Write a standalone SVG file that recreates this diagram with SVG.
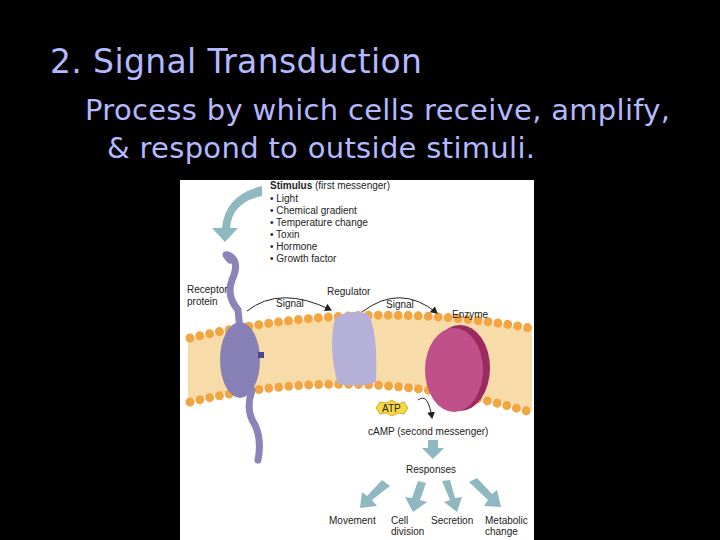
<svg xmlns="http://www.w3.org/2000/svg" width="720" height="540" viewBox="0 0 720 540">
<defs>
<marker id="ah" markerWidth="8" markerHeight="8" refX="6" refY="4" orient="auto"><path d="M0,0 L7,4 L0,8 z" fill="#222"/></marker>
<style>
.t{font-family:"DejaVu Sans",sans-serif;fill:#b4b8ff}
.s{font-family:"Liberation Sans",Arial,sans-serif;font-size:10px;fill:#222}
.b{fill:#8fb8c0}
.heads{fill:none;stroke:#f2a540;stroke-width:9;stroke-linecap:round;stroke-dasharray:0 10}
.sig{fill:none;stroke:#222;stroke-width:1}
</style>
</defs>
<rect width="720" height="540" fill="#000"/>
<text class="t" x="50" y="73" font-size="33" textLength="372">2. Signal Transduction</text>
<text class="t" x="85" y="120" font-size="29" textLength="585">Process by which cells receive, amplify,</text>
<text class="t" x="107" y="158" font-size="29" textLength="428">&amp; respond to outside stimuli.</text>
<rect x="180" y="180" width="354" height="360" fill="#fff"/>
<g id="membrane">
<path d="M188,340 Q360,298 532,330 L532,410 Q360,360 188,400 z" fill="#f7dba8"/>
<path class="heads" d="M190,338 Q360,298 530,328"/>
<path class="heads" d="M190,402 Q360,362 530,412"/>
</g>
<g id="stimulus">
<path class="b" d="M262,186 Q225,195 222,228 L212,228 L225,242 L238,228 L230,228 Q232,202 262,196 z"/>
<text class="s" x="270" y="189"><tspan font-weight="bold">Stimulus</tspan> (first messenger)</text>
<text class="s" x="270" y="202">• Light</text>
<text class="s" x="270" y="214">• Chemical gradient</text>
<text class="s" x="270" y="226">• Temperature change</text>
<text class="s" x="270" y="238">• Toxin</text>
<text class="s" x="270" y="250">• Hormone</text>
<text class="s" x="270" y="262">• Growth factor</text>
</g>
<g id="receptor">
<path d="M230,260 Q222,252 230,256 Q240,262 232,280 Q226,296 238,310 L240,330" fill="none" stroke="#8a84b8" stroke-width="7" stroke-linecap="round"/>
<path d="M252,390 Q245,410 255,425 Q262,440 258,460" fill="none" stroke="#8a84b8" stroke-width="7" stroke-linecap="round"/>
<ellipse cx="240" cy="360" rx="20" ry="38" fill="#8780b6"/>
<rect x="258" y="352" width="6" height="6" fill="#4a4690"/>
<text class="s" x="187" y="293">Receptor</text>
<text class="s" x="187" y="305">protein</text>
</g>
<g id="regulator">
<path d="M335,318 Q350,308 368,314 Q378,330 376,382 Q360,388 338,384 Q328,350 335,318 z" fill="#b4b0d8"/>
<text class="s" x="327" y="295">Regulator</text>
</g>
<g id="enzyme">
<ellipse cx="460" cy="368" rx="30" ry="43" fill="#9a2a60"/>
<ellipse cx="454" cy="370" rx="29" ry="42" fill="#c0508a"/>
<text class="s" x="452" y="318">Enzyme</text>
</g>
<g id="connectors">
<path class="sig" d="M247,311 Q280,285 331,310" marker-end="url(#ah)"/>
<text class="s" x="276" y="307">Signal</text>
<path class="sig" d="M362,312 Q400,283 437,313" marker-end="url(#ah)"/>
<text class="s" x="386" y="308">Signal</text>
<path class="sig" d="M418,400 Q428,392 432,418" marker-end="url(#ah)"/>
</g>
<g id="atp">
<polygon points="376,408 380,402 386,403 392,400 398,404 404,402 408,408 404,414 398,413 392,416 386,413 380,414" fill="#f8d840" stroke="#c89a20" stroke-width="0.8"/>
<text class="s" x="382" y="412" font-size="9">ATP</text>
</g>
<text class="s" x="368" y="435">cAMP (second messenger)</text>
<path class="b" d="M428,440 L438,440 L438,448 L444,448 L433,459 L422,448 L428,448 z"/>
<text class="s" x="406" y="473">Responses</text>
<g id="responses">
<path class="b" d="M382,480 L390,486 L372,500 L377,506 L360,508 L362,492 L367,496 z"/>
<path class="b" d="M418,481 L426,483 L420,500 L427,502 L413,512 L405,497 L412,498 z"/>
<path class="b" d="M442,481 L450,480 L455,498 L462,497 L457,512 L444,502 L450,500 z"/>
<path class="b" d="M469,482 L477,478 L492,494 L497,490 L501,507 L484,506 L488,500 z"/>
<text class="s" x="329" y="524">Movement</text>
<text class="s" x="391" y="524">Cell</text>
<text class="s" x="391" y="535">division</text>
<text class="s" x="431" y="524">Secretion</text>
<text class="s" x="485" y="524">Metabolic</text>
<text class="s" x="485" y="535">change</text>
</g>
</svg>
